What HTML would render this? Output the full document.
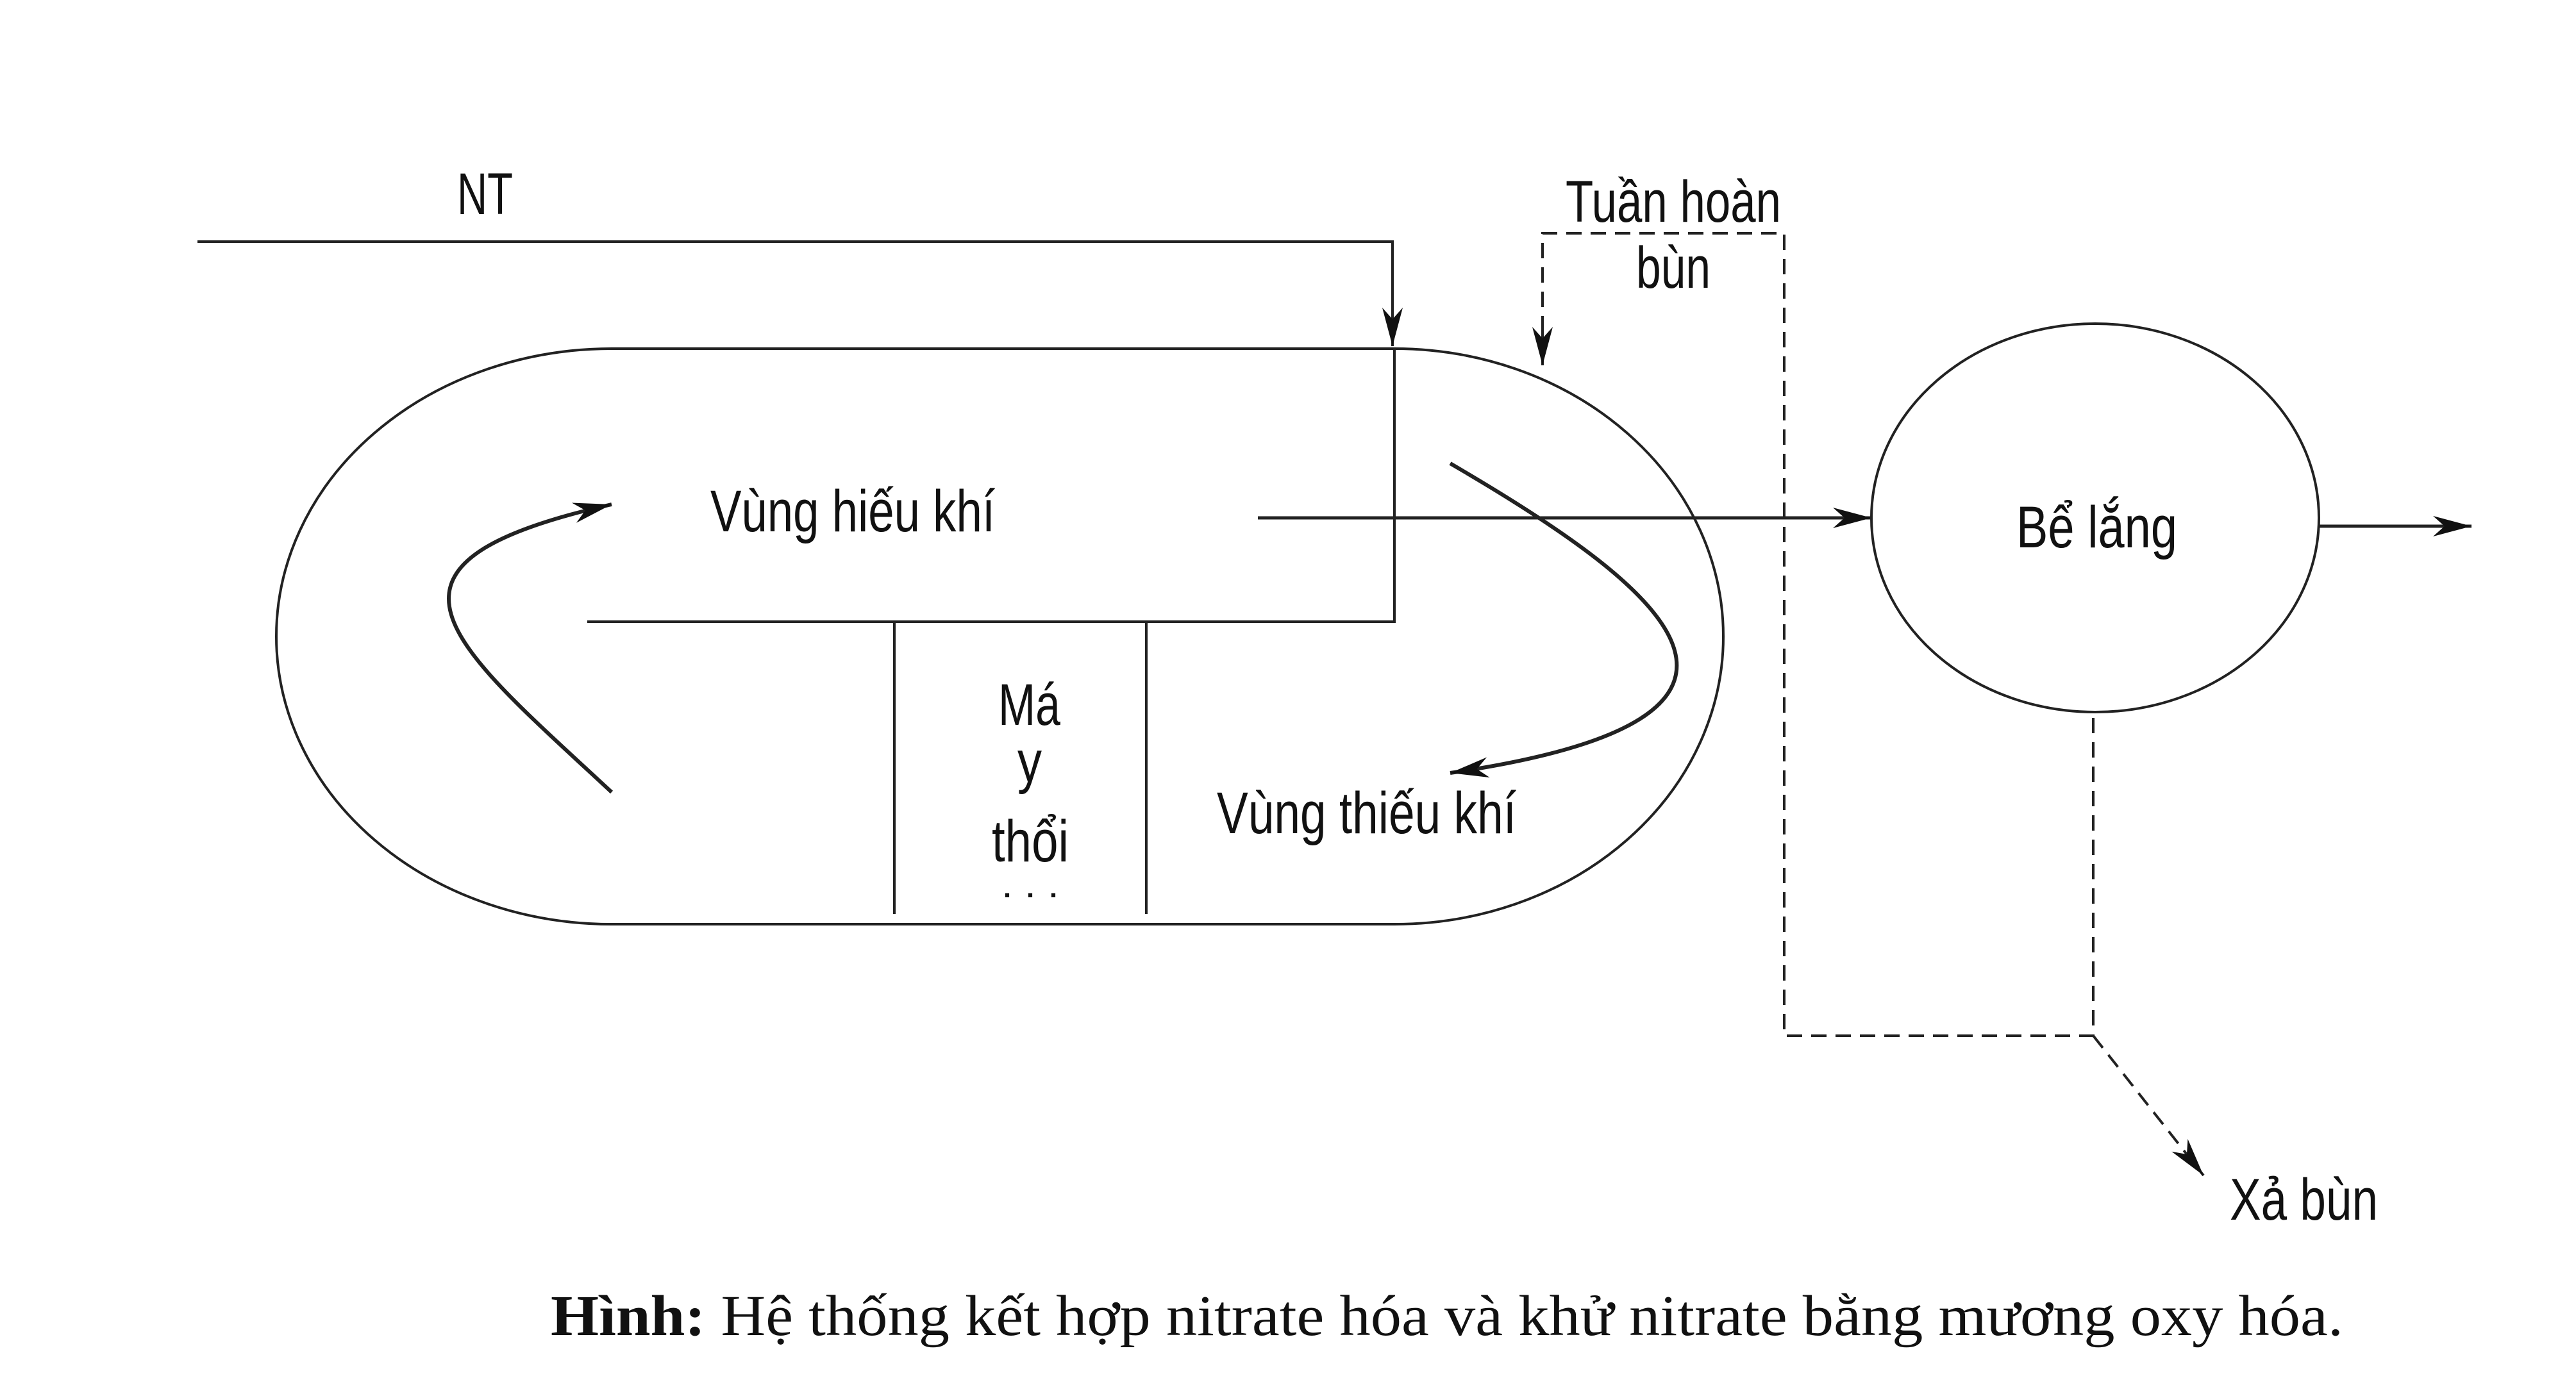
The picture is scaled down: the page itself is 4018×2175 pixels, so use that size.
<!DOCTYPE html>
<html><head><meta charset="utf-8"><style>html,body{margin:0;padding:0;background:#fff}svg{display:block}</style></head>
<body>
<svg width="4018" height="2175" viewBox="0 0 4018 2175" xmlns="http://www.w3.org/2000/svg">
<defs>
<marker id="ab" viewBox="0 0 10 10" refX="10" refY="5" markerWidth="60" markerHeight="40" markerUnits="userSpaceOnUse" orient="auto" preserveAspectRatio="none"><path d="M0,1 L10,5 L0,9 L3,5 z" fill="#111"/></marker>
</defs>
<g fill="none" stroke="#222" stroke-width="4">
<path d="M954,544 L2175,544 A513,449 0 0 1 2175,1442 L954,1442 A523,449 0 0 1 954,544 Z"/>
<path d="M916,970 L2175,970 L2175,544"/>
<path d="M1395,970 L1395,1426 M1788,970 L1788,1426"/>
<path d="M308,377 L2172,377 L2172,540" marker-end="url(#ab)"/>
<path d="M1962,808 L2919,808" stroke-width="5" marker-end="url(#ab)"/>
<ellipse cx="3268" cy="808" rx="349" ry="303"/>
<path d="M3617,821 L3855,821" stroke-width="5" marker-end="url(#ab)"/>
<path d="M954,1236 C700,1000 540,880 954,787" stroke-width="6" marker-end="url(#ab)"/>
<path d="M2262,723 C2600,920 2850,1120 2262,1206" stroke-width="6" marker-end="url(#ab)"/>
<g stroke-dasharray="24,14">
<path d="M2406,555 L2406,364 L2783,364 L2783,1616 L3265,1616 L3265,1111"/>
<path d="M3265,1616 L3437,1834" marker-end="url(#ab)"/>
</g>
<path d="M2406,500 L2406,570" marker-end="url(#ab)"/>
</g>
<g font-family="'Liberation Sans Narrow','Liberation Sans',sans-serif" font-size="92" fill="#111">
<text x="713" y="334" textLength="87" lengthAdjust="spacingAndGlyphs">NT</text>
<text x="1108" y="829" textLength="444" lengthAdjust="spacingAndGlyphs">Vùng hiếu khí</text>
<text x="1898" y="1300" textLength="467" lengthAdjust="spacingAndGlyphs">Vùng thiếu khí</text>
<text x="1557" y="1131" textLength="97" lengthAdjust="spacingAndGlyphs">Má</text>
<text x="1587" y="1220" textLength="38" lengthAdjust="spacingAndGlyphs">y</text>
<text x="1547" y="1344" textLength="120" lengthAdjust="spacingAndGlyphs">thổi</text>
<text x="1562" y="1400" font-size="60" textLength="90" lengthAdjust="spacingAndGlyphs">. . .</text>
<text x="2442" y="346" textLength="336" lengthAdjust="spacingAndGlyphs">Tuần hoàn</text>
<text x="2552" y="449" textLength="116" lengthAdjust="spacingAndGlyphs">bùn</text>
<text x="3145" y="854" textLength="251" lengthAdjust="spacingAndGlyphs">Bể lắng</text>
<text x="3478" y="1903" textLength="231" lengthAdjust="spacingAndGlyphs">Xả bùn</text>
</g>
<text x="859" y="2083" font-family="'Liberation Serif',serif" font-size="90" fill="#111" textLength="2796" lengthAdjust="spacingAndGlyphs"><tspan font-weight="bold">Hình:</tspan> Hệ thống kết hợp nitrate hóa và khử nitrate bằng mương oxy hóa.</text>
</svg>
</body></html>
